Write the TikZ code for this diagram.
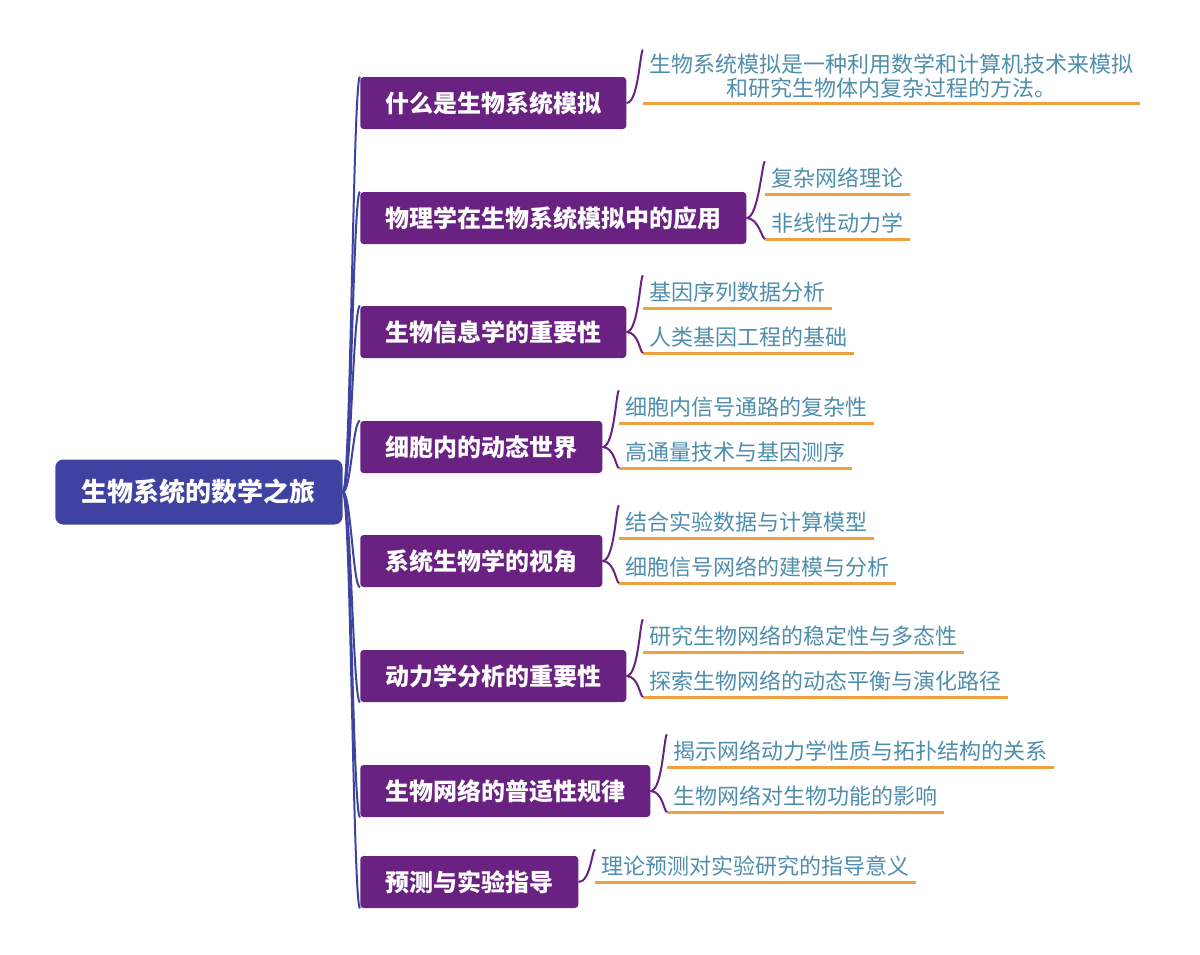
\documentclass[tikz,border=0pt]{standalone}
\usepackage{fontspec}
\setmainfont{Noto Sans CJK SC}
\definecolor{rootblue}{RGB}{64,66,162}
\definecolor{topicpurple}{RGB}{106,34,130}
\definecolor{leafteal}{RGB}{78,142,172}
\definecolor{lineorange}{RGB}{240,160,64}

\begin{document}
\begin{tikzpicture}[
    x=0.75pt, y=-0.75pt,
    root/.style={fill=rootblue, text=white, font=\fontsize{19.5pt}{22pt}\selectfont\bfseries,
      rounded corners=6pt, minimum height=48.75pt, inner xsep=20pt, anchor=west},
    topic/.style={fill=topicpurple, text=white, font=\fontsize{18pt}{20pt}\selectfont\bfseries,
      rounded corners=2.5pt, minimum height=39pt, inner xsep=18.75pt, anchor=west},
    leaf/.style={text=leafteal, font=\fontsize{16.5pt}{18pt}\selectfont, align=center,
      inner xsep=4.5pt, inner ysep=3pt, minimum height=24pt, anchor=south west},
    uline/.style={draw=lineorange, line width=2.25pt},
    trunk/.style={draw=rootblue, line width=1.5pt},
    branch/.style={draw=topicpurple, line width=1.5pt}
]
  \useasboundingbox (0,0) rectangle (1200,954);

  % nodes
  \node[root] (R) at (55,492) {生物系统的数学之旅};

  \node[topic] (T1) at (360,103) {什么是生物系统模拟};
  \node[topic] (T2) at (360,218) {物理学在生物系统模拟中的应用};
  \node[topic] (T3) at (360,332) {生物信息学的重要性};
  \node[topic] (T4) at (360,447) {细胞内的动态世界};
  \node[topic] (T5) at (360,561) {系统生物学的视角};
  \node[topic] (T6) at (360,676) {动力学分析的重要性};
  \node[topic] (T7) at (360,791) {生物网络的普适性规律};
  \node[topic] (T8) at (360,882) {预测与实验指导};

  \node[leaf] (L1) at (643,103) {生物系统模拟是一种利用数学和计算机技术来模拟\\和研究生物体内复杂过程的方法。};
  \node[leaf] (L2a) at (765,194) {复杂网络理论};
  \node[leaf] (L2b) at (765,239) {非线性动力学};
  \node[leaf] (L3a) at (643,308) {基因序列数据分析};
  \node[leaf] (L3b) at (643,353) {人类基因工程的基础};
  \node[leaf] (L4a) at (619,423) {细胞内信号通路的复杂性};
  \node[leaf] (L4b) at (619,468) {高通量技术与基因测序};
  \node[leaf] (L5a) at (619,538) {结合实验数据与计算模型};
  \node[leaf] (L5b) at (619,583) {细胞信号网络的建模与分析};
  \node[leaf] (L6a) at (643,652) {研究生物网络的稳定性与多态性};
  \node[leaf] (L6b) at (643,697) {探索生物网络的动态平衡与演化路径};
  \node[leaf] (L7a) at (667,767) {揭示网络动力学性质与拓扑结构的关系};
  \node[leaf] (L7b) at (667,812) {生物网络对生物功能的影响};
  \node[leaf] (L8) at (595,882) {理论预测对实验研究的指导意义};

  % underlines
  \draw[uline] (L1.south west) -- (L1.south east);
  \draw[uline] (L2a.south west) -- (L2a.south east);
  \draw[uline] (L2b.south west) -- (L2b.south east);
  \draw[uline] (L3a.south west) -- (L3a.south east);
  \draw[uline] (L3b.south west) -- (L3b.south east);
  \draw[uline] (L4a.south west) -- (L4a.south east);
  \draw[uline] (L4b.south west) -- (L4b.south east);
  \draw[uline] (L5a.south west) -- (L5a.south east);
  \draw[uline] (L5b.south west) -- (L5b.south east);
  \draw[uline] (L6a.south west) -- (L6a.south east);
  \draw[uline] (L6b.south west) -- (L6b.south east);
  \draw[uline] (L7a.south west) -- (L7a.south east);
  \draw[uline] (L7b.south west) -- (L7b.south east);
  \draw[uline] (L8.south west) -- (L8.south east);

  % edges from the root
  \draw[trunk] (R.east) .. controls +(8,0) and +(-7,0) .. (T1.north west);
  \draw[trunk] (R.east) .. controls +(8,0) and +(-7,0) .. (T2.north west);
  \draw[trunk] (R.east) .. controls +(8,0) and +(-7,0) .. (T3.north west);
  \draw[trunk] (R.east) .. controls +(8,0) and +(-7,0) .. (T4.north west);
  \draw[trunk] (R.east) .. controls +(8,0) and +(-7,0) .. (T5.south west);
  \draw[trunk] (R.east) .. controls +(8,0) and +(-7,0) .. (T6.south west);
  \draw[trunk] (R.east) .. controls +(8,0) and +(-7,0) .. (T7.south west);
  \draw[trunk] (R.east) .. controls +(8,0) and +(-7,0) .. (T8.south west);

  % edges to the leaves
  \draw[branch] (T1.east) .. controls +(12,0) and +(-3,0) .. (L1.north west);
  \draw[branch] (T2.east) .. controls +(12,0) and +(-3,0) .. (L2a.north west);
  \draw[branch] (T2.east) .. controls +(12,0) and +(-3,0) .. (L2b.south west);
  \draw[branch] (T3.east) .. controls +(12,0) and +(-3,0) .. (L3a.north west);
  \draw[branch] (T3.east) .. controls +(12,0) and +(-3,0) .. (L3b.south west);
  \draw[branch] (T4.east) .. controls +(12,0) and +(-3,0) .. (L4a.north west);
  \draw[branch] (T4.east) .. controls +(12,0) and +(-3,0) .. (L4b.south west);
  \draw[branch] (T5.east) .. controls +(12,0) and +(-3,0) .. (L5a.north west);
  \draw[branch] (T5.east) .. controls +(12,0) and +(-3,0) .. (L5b.south west);
  \draw[branch] (T6.east) .. controls +(12,0) and +(-3,0) .. (L6a.north west);
  \draw[branch] (T6.east) .. controls +(12,0) and +(-3,0) .. (L6b.south west);
  \draw[branch] (T7.east) .. controls +(12,0) and +(-3,0) .. (L7a.north west);
  \draw[branch] (T7.east) .. controls +(12,0) and +(-3,0) .. (L7b.south west);
  \draw[branch] (T8.east) .. controls +(12,0) and +(-3,0) .. (L8.north west);
\end{tikzpicture}
\end{document}
